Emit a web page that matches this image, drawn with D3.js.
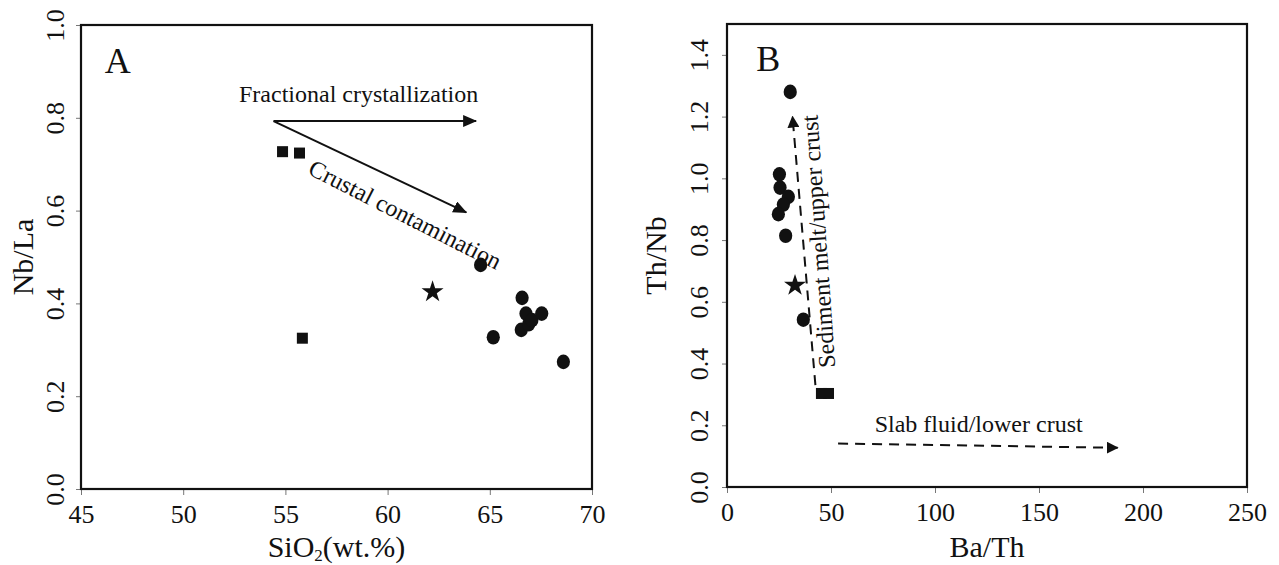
<!DOCTYPE html>
<html>
<head>
    <script src="https://cdnjs.cloudflare.com/ajax/libs/d3/7.8.5/d3.min.js"></script>
    <style>
        body { margin: 0; background: #fff; }
        svg { font-family: "Liberation Serif", "Times New Roman", serif; }
        .tick line { stroke: #777; stroke-width: 1px; }
        .frame { fill: none; stroke: #111; stroke-width: 2.2px; }
        .title { font-size: 30px; fill: #111; }
        .note { font-size: 24px; fill: #111; }
        .panel { font-size: 36px; fill: #111; }
    </style>
</head>
<body>
    <svg width="1279" height="565"></svg>
    <script>
        // Panel A: SiO2 vs Nb/La
        const aCircleX = [64.55, 65.17, 66.58, 66.77, 66.54, 66.9, 67.06, 67.54, 68.6];
        const aCircleY = [0.483, 0.327, 0.412, 0.378, 0.343, 0.355, 0.364, 0.378, 0.274];
        const aSquareX = [54.86, 55.69, 55.83];
        const aSquareY = [0.727, 0.724, 0.325];
        const aStarX = [62.2];
        const aStarY = [0.425];
        const aXTicks = [45, 50, 55, 60, 65, 70];
        const aYTicks = [0, 0.2, 0.4, 0.6, 0.8, 1.0];

        // Panel B: Ba/Th vs Th/Nb
        const bCircleX = [30.4, 25.2, 25.5, 29.5, 27.1, 24.7, 28.2, 36.7];
        const bCircleY = [1.28, 1.013, 0.97, 0.94, 0.915, 0.884, 0.814, 0.542];
        const bSquareX = [45.4, 48.8];
        const bSquareY = [0.303, 0.303];
        const bStarX = [32.7];
        const bStarY = [0.653];
        const bXTicks = [0, 50, 100, 150, 200, 250];
        const bYTicks = [0, 0.2, 0.4, 0.6, 0.8, 1.0, 1.2, 1.4];

        const serif = '"Liberation Serif", "Times New Roman", serif';
        const svg = d3.select("svg");

        // arrowheads
        const defs = svg.append("defs");
        defs.append("marker")
            .attr("id", "head")
            .attr("viewBox", "0 0 14 12")
            .attr("refX", 13).attr("refY", 6)
            .attr("markerUnits", "userSpaceOnUse")
            .attr("markerWidth", 14).attr("markerHeight", 12)
            .attr("orient", "auto")
            .append("path").attr("d", "M0,0 L14,6 L0,12 Z").attr("fill", "#111");
        defs.append("marker")
            .attr("id", "headB")
            .attr("viewBox", "0 0 12 12")
            .attr("refX", 11).attr("refY", 6)
            .attr("markerUnits", "userSpaceOnUse")
            .attr("markerWidth", 12).attr("markerHeight", 12)
            .attr("orient", "auto")
            .append("path").attr("d", "M0,0 L12,6 L0,12 Z").attr("fill", "#111");

        function panel(cfg) {
            const g = svg.append("g");
            const x = d3.scaleLinear().domain(cfg.xDomain).range(cfg.xRange);
            const y = d3.scaleLinear().domain(cfg.yDomain).range(cfg.yRange);

            // axes
            const gx = g.append("g")
                .attr("transform", `translate(0,${cfg.yRange[0]})`)
                .call(d3.axisBottom(x).tickValues(cfg.xTicks).tickSize(6).tickFormat(d3.format("d")));
            gx.select(".domain").remove();
            gx.attr("font-family", serif).attr("font-size", 26);
            gx.selectAll(".tick text").attr("y", 16).attr("fill", "#111");

            const gy = g.append("g")
                .attr("transform", `translate(${cfg.xRange[0]},0)`)
                .call(d3.axisLeft(y).tickValues(cfg.yTicks).tickSize(5).tickFormat(d3.format(".1f")));
            gy.select(".domain").remove();
            gy.attr("font-family", serif).attr("font-size", 26);
            gy.selectAll(".tick text")
                .attr("transform", "rotate(-90)")
                .attr("text-anchor", "middle")
                .attr("fill", "#111")
                .attr("x", 0)
                .attr("y", -cfg.yLabelOff)
                .attr("dy", null);

            // frame
            g.append("rect").attr("class", "frame")
                .attr("x", cfg.xRange[0]).attr("y", cfg.yRange[1])
                .attr("width", cfg.xRange[1] - cfg.xRange[0])
                .attr("height", cfg.yRange[0] - cfg.yRange[1]);

            // axis titles
            const tx = g.append("text").attr("class", "title")
                .attr("text-anchor", "middle")
                .attr("x", (cfg.xRange[0] + cfg.xRange[1]) / 2)
                .attr("y", 557);
            tx.append("tspan").text(cfg.xTitle[0]);
            if (cfg.xTitle.length > 1) {
                tx.append("tspan").attr("font-size", 17).attr("dy", 4).text(cfg.xTitle[1]);
                tx.append("tspan").attr("dy", -4).text(cfg.xTitle[2]);
            }
            g.append("text").attr("class", "title")
                .attr("font-size", 32)
                .attr("text-anchor", "middle")
                .attr("transform", `translate(${cfg.yTitleX},${(cfg.yRange[0] + cfg.yRange[1]) / 2}) rotate(-90)`)
                .text(cfg.yTitle);

            // panel letter
            g.append("text").attr("class", "panel")
                .attr("x", x(cfg.letterAt[0])).attr("y", y(cfg.letterAt[1]))
                .text(cfg.letter);

            return { g, x, y };
        }

        function drawPoints(p, cx, cy, sx, sy, tx, ty) {
            p.g.append("g").selectAll("ellipse")
                .data(d3.zip(cx, cy))
                .join("ellipse")
                .attr("cx", d => p.x(d[0])).attr("cy", d => p.y(d[1]))
                .attr("rx", 6.6).attr("ry", 7.3)
                .attr("fill", "#111");
            p.g.append("g").selectAll("rect")
                .data(d3.zip(sx, sy))
                .join("rect")
                .attr("x", d => p.x(d[0]) - 5.5).attr("y", d => p.y(d[1]) - 5.5)
                .attr("width", 11).attr("height", 11)
                .attr("fill", "#111");
            p.g.append("g").selectAll("path")
                .data(d3.zip(tx, ty))
                .join("path")
                .attr("transform", d => `translate(${p.x(d[0])},${p.y(d[1])})`)
                .attr("d", d3.symbol(d3.symbolStar, 150))
                .attr("fill", "#111");
        }

        function arrow(p, from, to, dashed) {
            p.g.append("line")
                .attr("x1", p.x(from[0])).attr("y1", p.y(from[1]))
                .attr("x2", p.x(to[0])).attr("y2", p.y(to[1]))
                .attr("stroke", "#111")
                .attr("stroke-width", 2)
                .attr("stroke-dasharray", dashed ? "10,7" : null)
                .attr("marker-end", dashed ? "url(#headB)" : "url(#head)");
        }

        function note(p, at, angle, txt) {
            p.g.append("text").attr("class", "note")
                .attr("transform", `translate(${p.x(at[0])},${p.y(at[1])}) rotate(${angle})`)
                .text(txt);
        }

        // ---- Panel A
        const A = panel({
            xDomain: [45, 70], xRange: [81, 592],
            yDomain: [0, 1], yRange: [489, 25],
            xTicks: aXTicks, yTicks: aYTicks, yLabelOff: 17,
            xTitle: ["SiO", "2", "(wt.%)"], yTitle: "Nb/La", yTitleX: 33,
            letter: "A", letterAt: [46.16, 0.896]
        });
        arrow(A, [54.42, 0.793], [64.33, 0.793], false);
        arrow(A, [54.42, 0.793], [63.85, 0.596], false);
        note(A, [52.73, 0.833], 0, "Fractional crystallization");
        note(A, [56.05, 0.68], 27, "Crustal contamination");
        drawPoints(A, aCircleX, aCircleY, aSquareX, aSquareY, aStarX, aStarY);

        // ---- Panel B
        const B = panel({
            xDomain: [0, 250], xRange: [727, 1247],
            yDomain: [0, 1.5], yRange: [487, 24],
            xTicks: bXTicks, yTicks: bYTicks, yLabelOff: 19,
            xTitle: ["Ba/Th"], yTitle: "Th/Nb", yTitleX: 666,
            letter: "B", letterAt: [14.1, 1.347]
        });
        arrow(B, [42.5, 0.33], [31.5, 1.2], true);
        arrow(B, [53.4, 0.141], [187.8, 0.127], true);
        note(B, [71, 0.179], 0, "Slab fluid/lower crust");
        note(B, [52, 0.388], -94, "Sediment melt/upper crust");
        drawPoints(B, bCircleX, bCircleY, bSquareX, bSquareY, bStarX, bStarY);
    </script>
</body>
</html>
